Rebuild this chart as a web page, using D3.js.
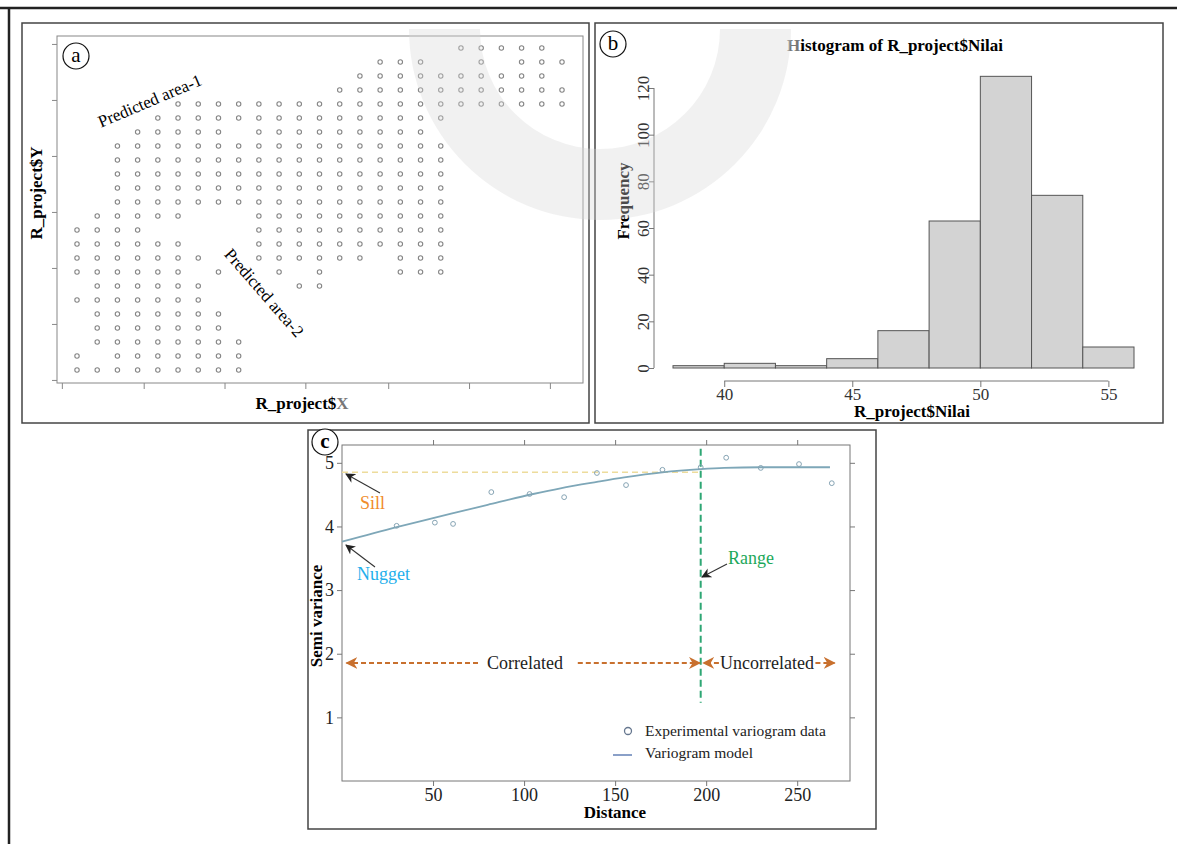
<!DOCTYPE html>
<html>
<head>
<meta charset="utf-8">
<script src="https://cdn.jsdelivr.net/npm/d3@7"></script>
<style>
  body { margin: 0; background: #fff; }
  svg text { font-family: "Liberation Serif", "DejaVu Serif", serif; }
</style>
</head>
<body>
<div id="chart-area"></div>
<script>
// ---- panel a : sampling grid (column index ranges per row, top row first)
let gridY = [23, 22, 21, 20, 19, 18, 17, 16, 15, 14, 13, 12, 11, 10, 9, 8, 7, 6, 5, 4, 3, 2, 1, 0];
let gridX = [
    "19-23",
    "15-17,20,22-24",
    "14-23",
    "13-24",
    "5-24",
    "4-18",
    "3-7,9-17",
    "2-18", "2-18", "2-18", "2-18", "2-18",
    "1-5,9-18",
    "0-3,9-18",
    "0-5,9-18",
    "0-6,9-14,16-18",
    "0-5,7,10,12,16-18",
    "1-6,11-12",
    "0-6", "1-7", "1-7", "1-8", "0,2-8", "0-8"
];
let gridTicksX = [-0.75, 3.3, 7.3, 11.3, 15.4, 19.4, 23.4];
let gridTicksY = [-0.71, 3.29, 7.29, 11.29, 15.29, 19.29, 23.29];

// ---- panel b : histogram of Nilai
let binStart = [38, 40, 42, 44, 46, 48, 50, 52, 54];
let binCount = [1, 2, 1, 4, 16, 63, 125, 74, 9];
let histTicksX = [40, 45, 50, 55];
let histTicksY = [0, 20, 40, 60, 80, 100, 120];

// ---- panel c : variogram
let lagDist = [30, 51, 61, 82, 103, 122, 140, 156, 176, 197, 211, 230, 251, 269];
let semiVar = [4.01, 4.06, 4.04, 4.54, 4.51, 4.46, 4.84, 4.65, 4.89, 4.93, 5.08, 4.92, 4.98, 4.68];
let modelDist = [0, 30, 50, 80, 105, 120, 140, 155, 176, 197, 210, 230, 268];
let modelVar = [3.76, 3.99, 4.13, 4.34, 4.51, 4.60, 4.70, 4.77, 4.85, 4.90, 4.92, 4.93, 4.93];
let varTicksX = [50, 100, 150, 200, 250];
let varTicksY = [1, 2, 3, 4, 5];
let sillValue = 4.85;
let rangeValue = 197;

let width = 1177;
let height = 844;
let svg = d3.select("#chart-area")
            .append("svg")
            .attr("width", width)
            .attr("height", height);

let defs = svg.append("defs");
function addMarker(id, color, size) {
    defs.append("marker")
        .attr("id", id)
        .attr("viewBox", "0 0 10 10")
        .attr("refX", 9).attr("refY", 5)
        .attr("markerWidth", size).attr("markerHeight", size)
        .attr("markerUnits", "userSpaceOnUse")
        .attr("orient", "auto")
        .append("path")
        .attr("d", "M0,0 L10,5 L0,10 L3,5 Z")
        .attr("fill", color);
}
addMarker("arrowBlack", "#222", 10);
addMarker("arrowOrange", "#c8702e", 12);

// page border
svg.append("line").attr("x1", 0).attr("x2", width).attr("y1", 8).attr("y2", 8)
   .attr("stroke", "#222").attr("stroke-width", 2.5);
svg.append("line").attr("x1", 9).attr("x2", 9).attr("y1", 8).attr("y2", height)
   .attr("stroke", "#222").attr("stroke-width", 2.5);

function frame(x0, y0, x1, y1) {
    svg.append("rect").attr("x", x0).attr("y", y0)
       .attr("width", x1 - x0).attr("height", y1 - y0)
       .attr("fill", "none").attr("stroke", "#444").attr("stroke-width", 1.5);
}
function badge(cx, cy, letter, bold) {
    svg.append("circle").attr("cx", cx).attr("cy", cy).attr("r", 13)
       .attr("fill", "#fff").attr("stroke", "#111").attr("stroke-width", 1.2);
    svg.append("text").attr("x", cx).attr("y", cy + 6)
       .attr("text-anchor", "middle").style("font-size", "21px")
       .style("font-weight", bold ? "bold" : "normal")
       .text(letter);
}

// =================== panel a ===================
frame(22, 23, 589, 423);
let ax = d3.scaleLinear().domain([0, 24]).range([77, 562]);
let ay = d3.scaleLinear().domain([0, 23]).range([370, 48]);

svg.append("rect").attr("x", 57).attr("y", 36).attr("width", 583 - 57).attr("height", 383 - 36)
   .attr("fill", "none").attr("stroke", "#888").attr("stroke-width", 1);

let gA = svg.append("g");
gA.append("g")
  .attr("transform", "translate(0,383)")
  .call(d3.axisBottom(ax).tickValues(gridTicksX).tickSize(6).tickFormat(""))
  .call(g => g.select(".domain").remove())
  .call(g => g.selectAll("line").attr("stroke", "#888"));
gA.append("g")
  .attr("transform", "translate(57,0)")
  .call(d3.axisLeft(ay).tickValues(gridTicksY).tickSize(5).tickFormat(""))
  .call(g => g.select(".domain").remove())
  .call(g => g.selectAll("line").attr("stroke", "#888"));

function expand(spec) {
    let out = [];
    spec.split(",").forEach(function(part) {
        let ab = part.split("-").map(Number);
        let lo = ab[0], hi = ab.length > 1 ? ab[1] : ab[0];
        for (let c = lo; c <= hi; c++) out.push(c);
    });
    return out;
}
let gridPts = [];
gridY.forEach(function(yv, i) {
    expand(gridX[i]).forEach(function(xv) { gridPts.push({x: xv, y: yv}); });
});
gA.selectAll(".gp")
  .data(gridPts)
  .enter()
  .append("circle")
  .attr("class", "gp")
  .attr("cx", d => ax(d.x))
  .attr("cy", d => ay(d.y))
  .attr("r", 2.2)
  .attr("fill", "none")
  .attr("stroke", "#858585")
  .attr("stroke-width", 1.1);

svg.append("text").attr("transform", "translate(150,101) rotate(-23)")
   .attr("text-anchor", "middle").attr("dominant-baseline", "central")
   .style("font-size", "17px").text("Predicted area-1");
svg.append("text").attr("transform", "translate(264,293) rotate(49)")
   .attr("text-anchor", "middle").attr("dominant-baseline", "central")
   .style("font-size", "17px").text("Predicted area-2");
svg.append("text").attr("transform", "translate(42,193) rotate(-90)")
   .attr("text-anchor", "middle").style("font-size", "17px").style("font-weight", "bold")
   .text("R_project$Y");
let xlabA = svg.append("text").attr("x", 302).attr("y", 409)
   .attr("text-anchor", "middle").style("font-size", "17px").style("font-weight", "bold");
xlabA.append("tspan").text("R_project$");
xlabA.append("tspan").attr("fill", "#777").text("X");
badge(76, 56, "a", false);

// =================== panel b ===================
frame(595, 23, 1163, 423);
let bx = d3.scaleLinear().domain([38, 56]).range([673, 1134]);
let by = d3.scaleLinear().domain([0, 120]).range([368, 88]);

svg.append("g").selectAll("rect")
   .data(binStart)
   .enter()
   .append("rect")
   .attr("x", d => bx(d))
   .attr("width", d => bx(d + 2) - bx(d))
   .attr("y", (d, i) => by(binCount[i]))
   .attr("height", (d, i) => by(0) - by(binCount[i]))
   .attr("fill", "#d3d3d3")
   .attr("stroke", "#555")
   .attr("stroke-width", 1);

let bxAxis = svg.append("g")
   .attr("transform", "translate(0,381)")
   .call(d3.axisBottom(bx).tickValues(histTicksX).tickSize(6).tickPadding(1).tickFormat(d3.format("d")));
bxAxis.select(".domain").attr("stroke", "#777").attr("d", "M" + bx(40) + ",0H" + bx(55));
bxAxis.selectAll("line").attr("stroke", "#777");
bxAxis.selectAll("text").style("font-size", "17px").attr("fill", "#333")
      .style("font-family", "Liberation Serif");

let byAxis = svg.append("g")
   .attr("transform", "translate(654,0)")
   .call(d3.axisLeft(by).tickValues(histTicksY).tickSize(5).tickFormat(d3.format("d")));
byAxis.select(".domain").attr("stroke", "#777").attr("d", "M0," + by(0) + "V" + by(120));
byAxis.selectAll("line").attr("stroke", "#777");
byAxis.selectAll("text")
      .style("font-size", "17px").attr("fill", "#333")
      .style("font-family", "Liberation Serif")
      .attr("text-anchor", "middle").attr("dy", null)
      .attr("transform", "translate(-11,0) rotate(-90)")
      .attr("x", 0).attr("y", 0).attr("dominant-baseline", "central");

let titleB = svg.append("text").attr("x", 895).attr("y", 51)
   .attr("text-anchor", "middle").style("font-size", "17px").style("font-weight", "bold");
titleB.append("tspan").attr("fill", "#777").text("H");
titleB.append("tspan").text("istogram of R_project$Nilai");
svg.append("text").attr("transform", "translate(629,201) rotate(-90)")
   .attr("text-anchor", "middle").style("font-size", "17px").style("font-weight", "bold")
   .text("Frequency");
svg.append("text").attr("x", 912).attr("y", 417)
   .attr("text-anchor", "middle").style("font-size", "17px").style("font-weight", "bold")
   .text("R_project$Nilai");
badge(613, 44, "b", false);

// =================== panel c ===================
frame(308, 430, 876, 829);
let cx = d3.scaleLinear().domain([0, 279]).range([342, 850]);
let cy = d3.scaleLinear().domain([0, 5.28]).range([781, 445]);

svg.append("rect").attr("x", 342).attr("y", 445).attr("width", 850 - 342).attr("height", 781 - 445)
   .attr("fill", "none").attr("stroke", "#777").attr("stroke-width", 1);

function styleAxis(g, labels) {
    g.select(".domain").remove();
    g.selectAll("line").attr("stroke", "#777");
    g.selectAll("text").style("font-size", "18px").attr("fill", "#222")
     .style("font-family", "Liberation Serif");
    if (!labels) g.selectAll("text").remove();
}
svg.append("g").attr("transform", "translate(0,781)")
   .call(d3.axisBottom(cx).tickValues(varTicksX).tickSize(5).tickPadding(2).tickFormat(d3.format("d")))
   .call(g => styleAxis(g, true));
svg.append("g").attr("transform", "translate(0,445)")
   .call(d3.axisTop(cx).tickValues(varTicksX).tickSize(5))
   .call(g => styleAxis(g, false));
svg.append("g").attr("transform", "translate(342,0)")
   .call(d3.axisLeft(cy).tickValues(varTicksY).tickSize(5).tickPadding(3).tickFormat(d3.format("d")))
   .call(g => styleAxis(g, true));
svg.append("g").attr("transform", "translate(850,0)")
   .call(d3.axisRight(cy).tickValues(varTicksY).tickSize(5))
   .call(g => styleAxis(g, false));

// sill (dashed) and range (dashed) guide lines
svg.append("line")
   .attr("x1", cx(0)).attr("x2", cx(rangeValue))
   .attr("y1", cy(sillValue)).attr("y2", cy(sillValue))
   .attr("stroke", "#eddc9c").attr("stroke-width", 1.5).attr("stroke-dasharray", "6,4");
svg.append("line")
   .attr("x1", cx(rangeValue)).attr("x2", cx(rangeValue))
   .attr("y1", cy(5.22)).attr("y2", cy(1.23))
   .attr("stroke", "#2ea774").attr("stroke-width", 2).attr("stroke-dasharray", "7,4");

// model curve
let modelLine = d3.line()
   .x((d, i) => cx(d))
   .y((d, i) => cy(modelVar[i]))
   .curve(d3.curveMonotoneX);
svg.append("path")
   .attr("d", modelLine(modelDist))
   .attr("fill", "none")
   .attr("stroke", "#7ea7b8")
   .attr("stroke-width", 1.8);

// experimental points
svg.selectAll(".vp")
   .data(lagDist)
   .enter()
   .append("circle")
   .attr("class", "vp")
   .attr("cx", d => cx(d))
   .attr("cy", (d, i) => cy(semiVar[i]))
   .attr("r", 2.4)
   .attr("fill", "none")
   .attr("stroke", "#86a4b4")
   .attr("stroke-width", 1);

// correlated / uncorrelated arrows
let corrY = 1.855;
let corrSegs = [[74.7, 2.5], [129.5, 196.5], [207, 198.5], [260, 270.5]];
svg.selectAll(".cseg")
   .data(corrSegs)
   .enter()
   .append("line")
   .attr("class", "cseg")
   .attr("x1", d => cx(d[0])).attr("x2", d => cx(d[1]))
   .attr("y1", cy(corrY)).attr("y2", cy(corrY))
   .attr("stroke", "#c8702e").attr("stroke-width", 2)
   .attr("stroke-dasharray", "5,3")
   .attr("marker-end", "url(#arrowOrange)");
svg.append("text").attr("x", 525).attr("y", cy(corrY) + 6)
   .attr("text-anchor", "middle").style("font-size", "18px").attr("fill", "#222")
   .text("Correlated");
svg.append("text").attr("x", 767).attr("y", cy(corrY) + 6)
   .attr("text-anchor", "middle").style("font-size", "18px").attr("fill", "#222")
   .text("Uncorrelated");

// annotation arrows
function pointer(x1, y1, x2, y2) {
    svg.append("line").attr("x1", x1).attr("y1", y1).attr("x2", x2).attr("y2", y2)
       .attr("stroke", "#333").attr("stroke-width", 1.1)
       .attr("marker-end", "url(#arrowBlack)");
}
pointer(380, 493, 346, 474);
pointer(375, 567, 346, 545);
pointer(727, 564, 702, 577);
svg.append("text").attr("x", 360).attr("y", 509).style("font-size", "18px")
   .attr("fill", "#f08c2c").text("Sill");
svg.append("text").attr("x", 357).attr("y", 580).style("font-size", "18px")
   .attr("fill", "#1fb0ec").text("Nugget");
svg.append("text").attr("x", 728).attr("y", 564).style("font-size", "18px")
   .attr("fill", "#1ca85a").text("Range");

// legend
svg.append("circle").attr("cx", 628).attr("cy", 731).attr("r", 3.5)
   .attr("fill", "none").attr("stroke", "#66778f").attr("stroke-width", 1.3);
svg.append("text").attr("x", 645).attr("y", 736).style("font-size", "15.5px")
   .attr("fill", "#222").text("Experimental variogram data");
svg.append("line").attr("x1", 613).attr("x2", 632).attr("y1", 755).attr("y2", 755)
   .attr("stroke", "#8aa0c8").attr("stroke-width", 2);
svg.append("text").attr("x", 645).attr("y", 758).style("font-size", "15.5px")
   .attr("fill", "#222").text("Variogram model");

svg.append("text").attr("transform", "translate(322,616) rotate(-90)")
   .attr("text-anchor", "middle").style("font-size", "17px").style("font-weight", "bold")
   .text("Semi variance");
svg.append("text").attr("x", 615).attr("y", 818)
   .attr("text-anchor", "middle").style("font-size", "17px").style("font-weight", "bold")
   .text("Distance");
badge(325, 442, "c", true);

// faint publisher watermark ring laid over the figure
let ring = d3.arc().innerRadius(120).outerRadius(191).startAngle(Math.PI / 2).endAngle(Math.PI * 1.5);
svg.append("path")
   .attr("transform", "translate(600,29)")
   .attr("d", ring())
   .attr("fill", "#d6d6d6")
   .attr("opacity", 0.35)
   .style("pointer-events", "none");
</script>
</body>
</html>
